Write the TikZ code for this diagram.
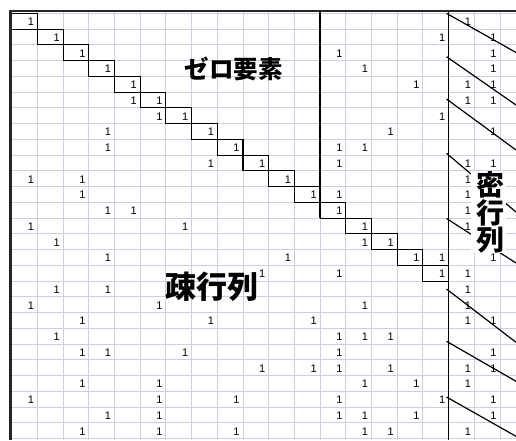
\documentclass[tikz,border=0pt]{standalone}
\usepackage{fontspec}
\setmainfont{Liberation Sans}
\newfontfamily\cjk{Noto Sans CJK JP}
\definecolor{gridc}{RGB}{200,208,226}
\begin{document}
\begin{tikzpicture}[x=1pt,y=-1pt,
  gridline/.style={draw=gridc, line width=0.9pt},
  stair/.style={draw=black, line width=1.1pt},
  frameline/.style={draw=black!85, line width=2.2pt},
  divider/.style={draw=black, line width=1.3pt},
  one/.style={anchor=base east, inner sep=0pt, font=\fontsize{11}{11}\selectfont},
  hatch/.style={draw=black, line width=1.2pt},
  bigtext/.style={inner sep=0pt, font=\cjk\bfseries\fontsize{#1}{#1}\selectfont}]
\useasboundingbox (0,0) rectangle (516,440);
\fill[white] (0,0) rectangle (516,440);
% grid
\foreach \c in {0,...,19}
  \draw[gridline] ({11.7+25.7*\c},11) -- ({11.7+25.7*\c},440);
\foreach \r in {0,...,27}
  \draw[gridline] (10,{13.3+15.75*\r}) -- (516,{13.3+15.75*\r});
% entries
\foreach \r/\cs in {0/{0,17},1/{1,16,18},2/{2,12,18},3/{3,13,18},4/{4,15,17,18},
  5/{4,5,17,18},6/{5,6,16},7/{3,7,14,18},8/{3,8,12,13},9/{7,9,12,17,18},
  10/{0,2,10,17},11/{2,11,12,17},12/{3,4,12,17},13/{0,6,13,17},14/{1,13,14},
  15/{3,10,15,16,18},16/{9,12,16,17},17/{1,3,17},18/{0,5,13,17},19/{2,7,11,17,18},
  20/{1,12,13,14},21/{2,3,6,12,18},22/{9,11,12,14,17,18},23/{2,5,13,15,17},
  24/{0,5,8,12,16,18},25/{3,5,12,13,15,18},26/{2,5,8,13,14,17}}
  \foreach \c in \cs
    \node[one] (n-\r-\c) at ({11.7+25.7*(\c+1)-3.2},{13.3+15.75*(\r+1)-3.4}) {1};
% staircase
\foreach \r in {0,...,16}
  \draw[stair] ({11.7+25.7*\r},{13.3+15.75*\r}) rectangle ({11.7+25.7*(\r+1)},{13.3+15.75*(\r+1)});
% frame
\draw[frameline] (9,11.3) -- (516,11.3);
\draw[frameline] (10.4,10.2) -- (10.4,440);
% dividers
\coordinate (vtop) at ({11.7+25.7*12},11);
\coordinate (vbot) at ({11.7+25.7*12},{13.3+15.75*13});
\draw[divider] (vtop) -- (vbot);
\coordinate (dtop) at ({11.7+25.7*17},11);
\coordinate (dbot) at ({11.7+25.7*17},440);
\draw[divider] (dtop) -- (dbot);
% hatching
\draw[hatch] (446.5,13.3) -- (516,52.5);
\draw[hatch] (446.5,56.7) -- (516,105);
\draw[hatch] (446.5,99) -- (516,150);
\draw[hatch] (446.5,153.3) -- (516,212);
\draw[hatch] (446.5,218.5) -- (516,263);
\draw[hatch] (446.5,289) -- (516,342.3);
\draw[hatch] (446.5,341.3) -- (516,381.3);
\draw[hatch] (446.5,397) -- (516,436.3);
% dense label box
\fill[white] (471,171) rectangle (506,253);
\node[bigtext=28] (mitsu) at (490.7,184.5) {密};
\node[bigtext=28] (gyo) at (490.7,213) {行};
\node[bigtext=28] (retsu) at (490.7,240.5) {列};
% labels
\node[bigtext=24.5] (zero) at (233.5,68.5) {ゼロ要素};
\node[bigtext=31] (sparse) at (211.5,287) {疎行列};
\end{tikzpicture}
\end{document}
